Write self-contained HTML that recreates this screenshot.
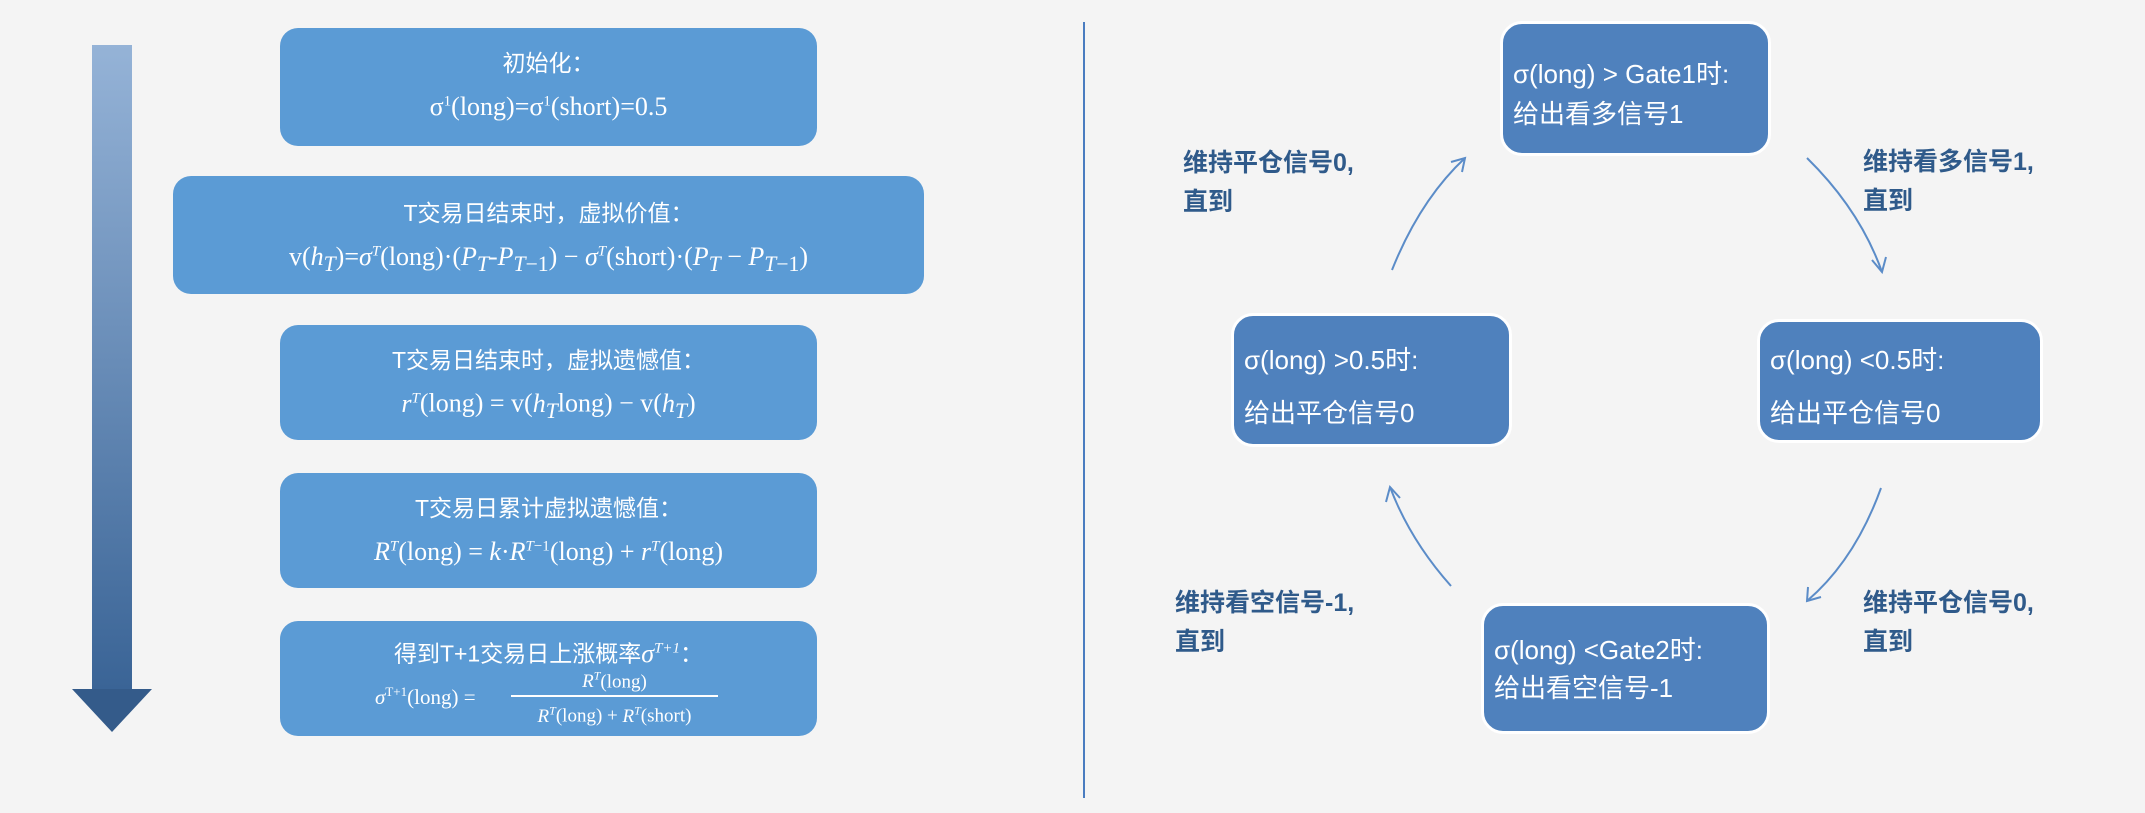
<!DOCTYPE html>
<html><head><meta charset="utf-8"><style>
body{margin:0;width:2145px;height:813px;background:#f4f4f4;position:relative;overflow:hidden;font-family:"Liberation Sans","Noto Sans CJK SC",sans-serif}
.b{position:absolute;background:#5b9bd5;border-radius:18px;color:#fff;text-align:center;font-size:23px;line-height:38px;box-sizing:border-box}
.m{font-family:"Liberation Serif","Noto Serif CJK SC",serif;font-size:26px}
.m i{font-style:italic}
.r{position:absolute;background:#4f81bd;border:3px solid #fff;border-radius:22px;color:#fff;font-size:26px;box-sizing:border-box;padding-left:10px}
.r div{position:absolute;left:10px;white-space:nowrap}
.l{position:absolute;color:#2f5a8a;font-weight:bold;font-size:25px;line-height:39px;white-space:nowrap}
sup{font-size:15px}
</style></head><body>
<div style="position:absolute;left:92px;top:45px;width:40px;height:645px;background:linear-gradient(#95b3d7,#3a6496)"></div>
<div style="position:absolute;left:72px;top:689px;width:0;height:0;border-left:40px solid transparent;border-right:40px solid transparent;border-top:43px solid #345b8a"></div>

<div class="b" style="left:280px;top:28px;width:537px;height:118px;padding-top:16px">初始化：<br><span class="m">σ<sup>1</sup>(long)=σ<sup>1</sup>(short)=0.5</span></div>
<div class="b" style="left:173px;top:176px;width:751px;height:118px;padding-top:18px">T交易日结束时，虚拟价值：<br><span class="m">v(<i>h<sub>T</sub></i>)=<i>σ<sup>T</sup></i>(long)·(<i>P<sub>T</sub></i>-<i>P</i><sub><i>T</i>−1</sub>) − <i>σ<sup>T</sup></i>(short)·(<i>P<sub>T</sub></i> − <i>P</i><sub><i>T</i>−1</sub>)</span></div>
<div class="b" style="left:280px;top:325px;width:537px;height:115px;padding-top:16px">T交易日结束时，虚拟遗憾值：<br><span class="m"><i>r<sup>T</sup></i>(long) = v(<i>h<sub>T</sub></i>long) − v(<i>h<sub>T</sub></i>)</span></div>
<div class="b" style="left:280px;top:473px;width:537px;height:115px;padding-top:16px">T交易日累计虚拟遗憾值：<br><span class="m"><i>R<sup>T</sup></i>(long) = <i>k</i>·<i>R</i><sup><i>T</i>−1</sup>(long) + <i>r<sup>T</sup></i>(long)</span></div>
<div class="b" style="left:280px;top:621px;width:537px;height:115px;padding-top:8px">得到T+1交易日上涨概率<span class="m"><i>σ<sup>T+1</sup></i></span>：
<div class="m" style="position:absolute;left:95px;top:60px;font-size:21px;line-height:22px"><i>σ</i><sup style="font-size:13px">T+1</sup>(long) =</div>
<div class="m" style="position:absolute;left:231px;top:44px;width:207px;font-size:19px;line-height:22px"><i>R<sup style="font-size:12px">T</sup></i>(long)<div style="border-top:2px solid #fff;margin:2px 0"></div><i>R<sup style="font-size:12px">T</sup></i>(long) + <i>R<sup style="font-size:12px">T</sup></i>(short)</div></div>

<div style="position:absolute;left:1083px;top:22px;width:2px;height:776px;background:#4a7cc0"></div>

<div class="r" style="left:1500px;top:21px;width:271px;height:135px"><div style="top:30px">σ(long) &gt; Gate1时:</div><div style="top:70px">给出看多信号1</div></div>
<div class="r" style="left:1231px;top:313px;width:281px;height:134px"><div style="top:24px">σ(long) &gt;0.5时:</div><div style="top:77px">给出平仓信号0</div></div>
<div class="r" style="left:1757px;top:319px;width:286px;height:124px"><div style="top:18px">σ(long) &lt;0.5时:</div><div style="top:71px">给出平仓信号0</div></div>
<div class="r" style="left:1481px;top:603px;width:289px;height:131px"><div style="top:24px">σ(long) &lt;Gate2时:</div><div style="top:62px">给出看空信号-1</div></div>

<div class="l" style="left:1183px;top:144px">维持平仓信号0,<br>直到</div>
<div class="l" style="left:1863px;top:143px">维持看多信号1,<br>直到</div>
<div class="l" style="left:1175px;top:584px">维持看空信号-1,<br>直到</div>
<div class="l" style="left:1863px;top:584px">维持平仓信号0,<br>直到</div>

<svg style="position:absolute;left:0;top:0" width="2145" height="813" fill="none" stroke="#5b8cc8" stroke-width="2">
<path d="M1392 270 Q1420 200 1465 158"/><path d="M1451 162 L1465 158 L1462 172"/>
<path d="M1807 158 Q1860 210 1882 272"/><path d="M1872 260 L1882 272 L1886 257"/>
<path d="M1881 488 Q1855 560 1807 601"/><path d="M1808 587 L1807 601 L1821 597"/>
<path d="M1451 586 Q1410 540 1390 487"/><path d="M1386 502 L1390 487 L1400 498"/>
</svg>
</body></html>
